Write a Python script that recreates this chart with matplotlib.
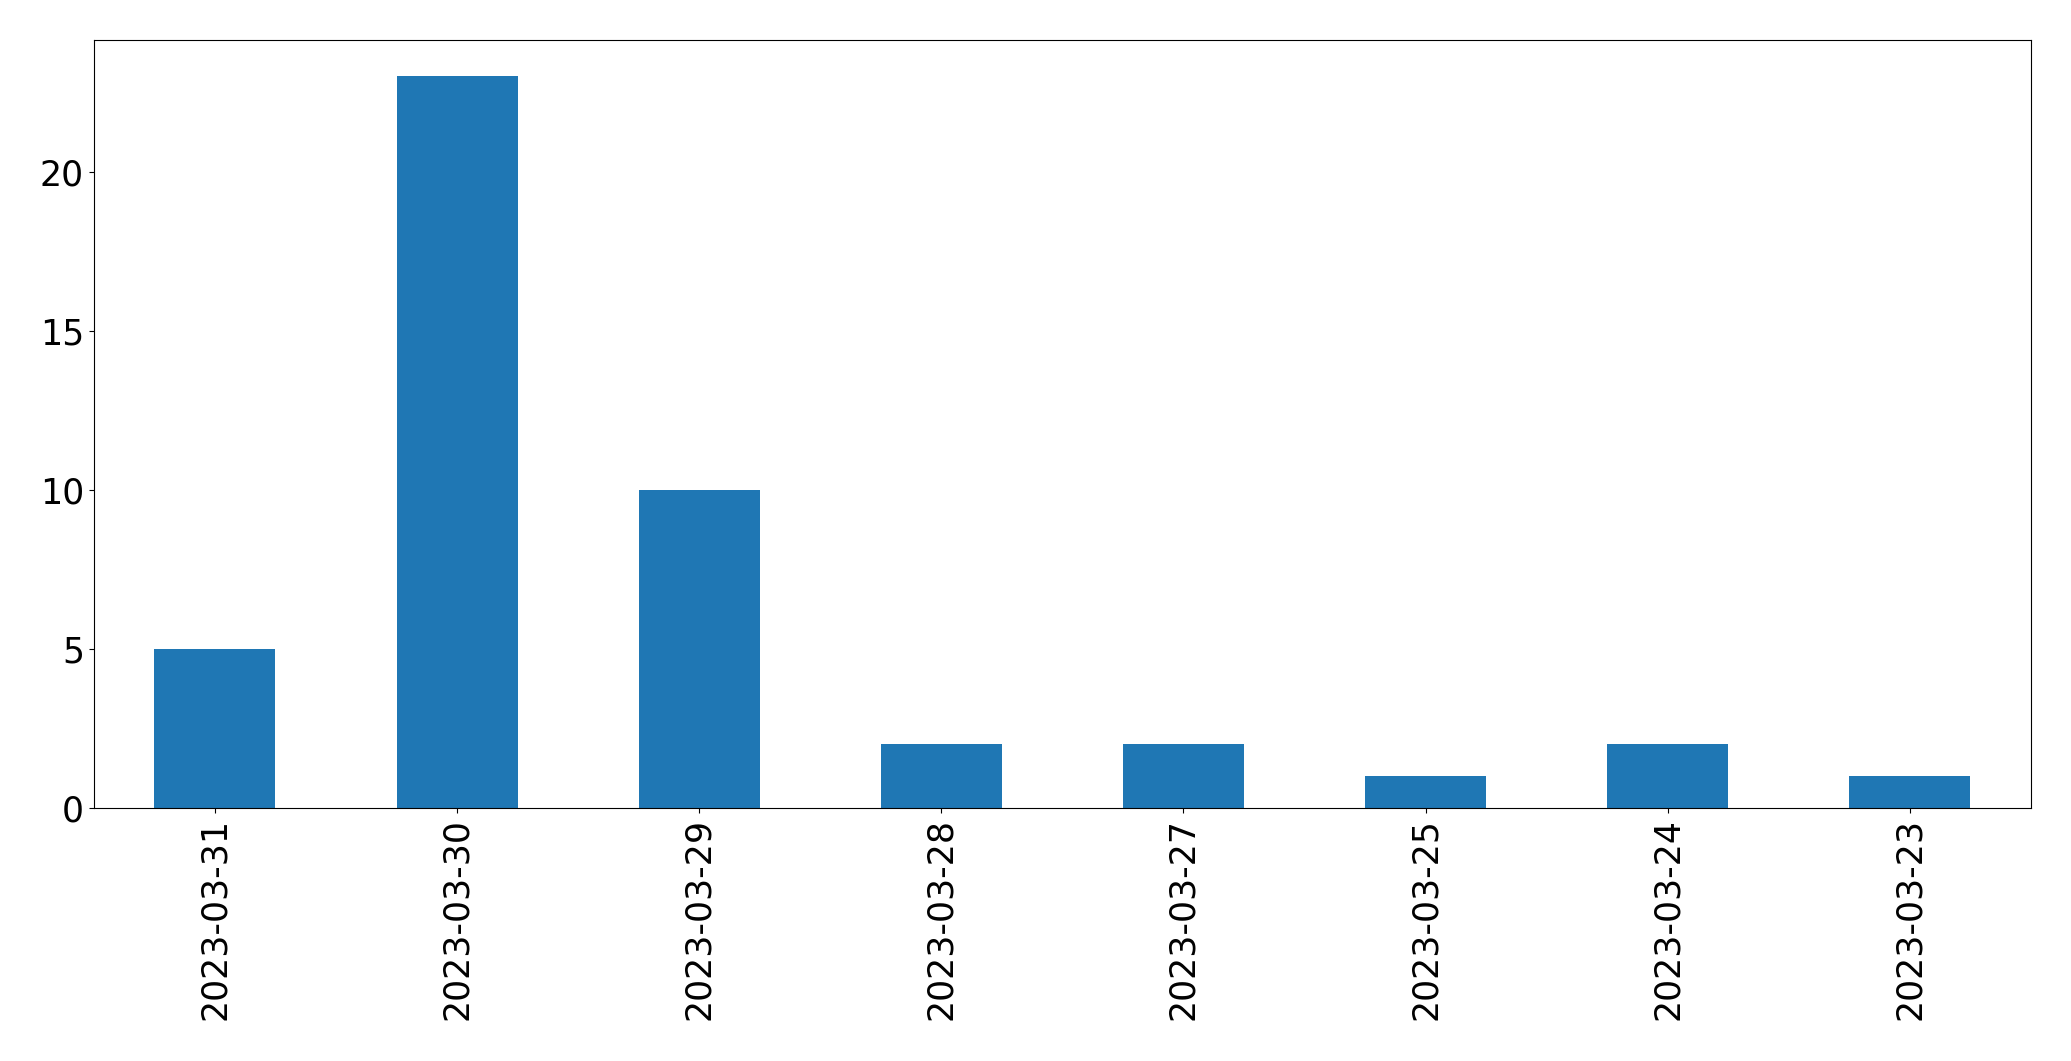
import matplotlib
matplotlib.use("Agg")
import matplotlib.pyplot as plt

dates = ["2023-03-31", "2023-03-30", "2023-03-29", "2023-03-28",
         "2023-03-27", "2023-03-25", "2023-03-24", "2023-03-23"]
counts = [5, 23, 10, 2, 2, 1, 2, 1]

fig = plt.figure(figsize=(20.71, 10.61), dpi=100)
ax = fig.add_subplot(111)
fig.subplots_adjust(left=0.0453, right=0.9807, top=0.9627, bottom=0.2385)

x = range(len(dates))
ax.bar(x, counts, width=0.5, color="#1f77b4")
ax.set_xlim(-0.5, len(dates) - 0.5)
ax.set_ylim(0, max(counts) * 1.05)
ax.set_xticks(list(x))
ax.set_xticklabels(dates, rotation=90)
ax.set_yticks([0, 5, 10, 15, 20])
ax.tick_params(labelsize=25)

fig.savefig("out.png", dpi=100)
